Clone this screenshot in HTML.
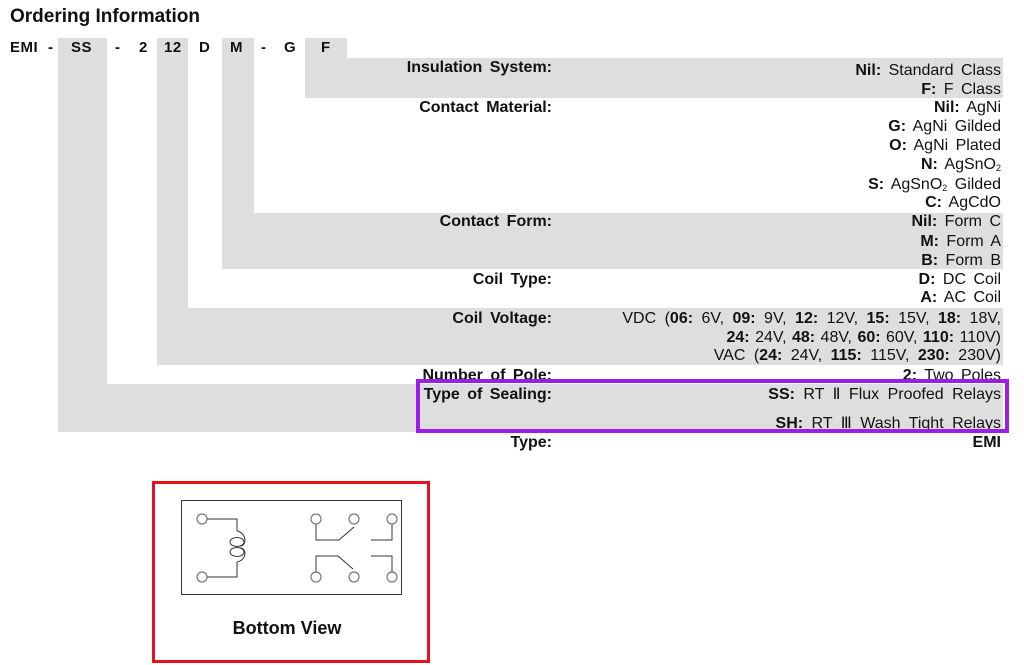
<!DOCTYPE html>
<html><head><meta charset="utf-8"><style>
html,body{margin:0;padding:0;background:#fff;}
body{width:1024px;height:665px;position:relative;overflow:hidden;font-family:"Liberation Sans",Arial,sans-serif;color:#111;}
.g{position:absolute;background:#dedede;}
.t{position:absolute;font-size:16px;line-height:19px;white-space:nowrap;word-spacing:3px;}
.l{right:472px;font-weight:bold;text-align:right;}
.v{right:23px;text-align:right;}
b{font-weight:bold;}
.h{position:absolute;font-size:15px;font-weight:bold;top:38px;line-height:20px;letter-spacing:0.5px;}
sub{font-size:9px;vertical-align:-2px;line-height:0;}
</style></head><body>
<div style="position:absolute;left:10px;top:5px;font-size:19px;font-weight:bold;line-height:24px;">Ordering Information</div>

<div class="g" style="left:58px;top:38px;width:49px;height:346px;"></div>
<div class="g" style="left:58px;top:384px;width:945px;height:48px;"></div>
<div class="g" style="left:157px;top:38px;width:31px;height:270px;"></div>
<div class="g" style="left:157px;top:308px;width:846px;height:57px;"></div>
<div class="g" style="left:222px;top:38px;width:32px;height:175px;"></div>
<div class="g" style="left:222px;top:213px;width:781px;height:56px;"></div>
<div class="g" style="left:305px;top:38px;width:42px;height:20px;"></div>
<div class="g" style="left:305px;top:58px;width:698px;height:40px;"></div>

<div class="h" style="left:10px;">EMI</div>
<div class="h" style="left:48px;">-</div>
<div class="h" style="left:71px;">SS</div>
<div class="h" style="left:115px;">-</div>
<div class="h" style="left:139px;">2</div>
<div class="h" style="left:164px;">12</div>
<div class="h" style="left:199px;">D</div>
<div class="h" style="left:230px;">M</div>
<div class="h" style="left:261px;">-</div>
<div class="h" style="left:284px;">G</div>
<div class="h" style="left:321px;">F</div>

<div class="t l" style="top:58px;">Insulation System:</div>
<div class="t v" style="top:61px;"><b>Nil:</b> Standard Class</div>
<div class="t v" style="top:80px;"><b>F:</b> F Class</div>
<div class="t l" style="top:98px;">Contact Material:</div>
<div class="t v" style="top:98px;"><b>Nil:</b> AgNi</div>
<div class="t v" style="top:117px;"><b>G:</b> AgNi Gilded</div>
<div class="t v" style="top:136px;"><b>O:</b> AgNi Plated</div>
<div class="t v" style="top:155px;"><b>N:</b> AgSnO<sub>2</sub></div>
<div class="t v" style="top:175px;"><b>S:</b> AgSnO<sub>2</sub> Gilded</div>
<div class="t v" style="top:193px;"><b>C:</b> AgCdO</div>
<div class="t l" style="top:212px;">Contact Form:</div>
<div class="t v" style="top:212px;"><b>Nil:</b> Form C</div>
<div class="t v" style="top:232px;"><b>M:</b> Form A</div>
<div class="t v" style="top:251px;"><b>B:</b> Form B</div>
<div class="t l" style="top:270px;">Coil Type:</div>
<div class="t v" style="top:270px;"><b>D:</b> DC Coil</div>
<div class="t v" style="top:288px;"><b>A:</b> AC Coil</div>
<div class="t l" style="top:309px;">Coil Voltage:</div>
<div class="t v" style="top:309px;word-spacing:4px;">VDC (<b>06:</b> 6V, <b>09:</b> 9V, <b>12:</b> 12V, <b>15:</b> 15V, <b>18:</b> 18V,</div>
<div class="t v" style="top:328px;word-spacing:1px;"><b>24:</b> 24V, <b>48:</b> 48V, <b>60:</b> 60V, <b>110:</b> 110V)</div>
<div class="t v" style="top:346px;word-spacing:4px;">VAC (<b>24:</b> 24V, <b>115:</b> 115V, <b>230:</b> 230V)</div>
<div class="t l" style="top:366px;">Number of Pole:</div>
<div class="t v" style="top:366px;"><b>2:</b> Two Poles</div>
<div class="t l" style="top:385px;">Type of Sealing:</div>
<div class="t v" style="top:385px;word-spacing:4px;"><b>SS:</b> RT Ⅱ Flux Proofed Relays</div>
<div class="t v" style="top:414px;word-spacing:4px;"><b>SH:</b> RT Ⅲ Wash Tight Relays</div>
<div class="t l" style="top:433px;">Type:</div>
<div class="t v" style="top:433px;font-weight:bold;">EMI</div>

<div style="position:absolute;left:416px;top:379px;width:585px;height:46px;border:4px solid #9a1ee6;"></div>

<div style="position:absolute;left:152px;top:481px;width:272px;height:176px;border:3.5px solid #e3121c;"></div>
<svg style="position:absolute;left:0;top:0" width="1024" height="665">
<g fill="none" stroke="#333" stroke-width="1">
<rect x="181.5" y="500.5" width="220" height="94"/>
<path d="M207 519 H237 V531"/>
<path d="M237 531 C247 533 247 546 240 546"/>
<path d="M237 562 C247 560 247 548 240 548"/>
<path d="M237 562 V577 H207"/>
<ellipse cx="237" cy="542" rx="7" ry="4.5"/>
<ellipse cx="237" cy="552" rx="7" ry="4.5"/>
<path d="M316 524 V540 H339 L354 527"/>
<path d="M392 524 V540 H371"/>
<path d="M316 572 V556 H338 L353 569"/>
<path d="M371 556 H392 V572"/>
</g>
<g fill="#fff" stroke="#777" stroke-width="1.2">
<circle cx="202" cy="519" r="5"/><circle cx="202" cy="577" r="5"/>
<circle cx="316" cy="519" r="5"/><circle cx="354" cy="519" r="5"/><circle cx="392" cy="519" r="5"/>
<circle cx="316" cy="577" r="5"/><circle cx="354" cy="577" r="5"/><circle cx="392" cy="577" r="5"/>
</g>
<text x="287" y="634" text-anchor="middle" font-family="Liberation Sans, Arial, sans-serif" font-weight="bold" font-size="18" fill="#111">Bottom View</text>
</svg>
</body></html>
